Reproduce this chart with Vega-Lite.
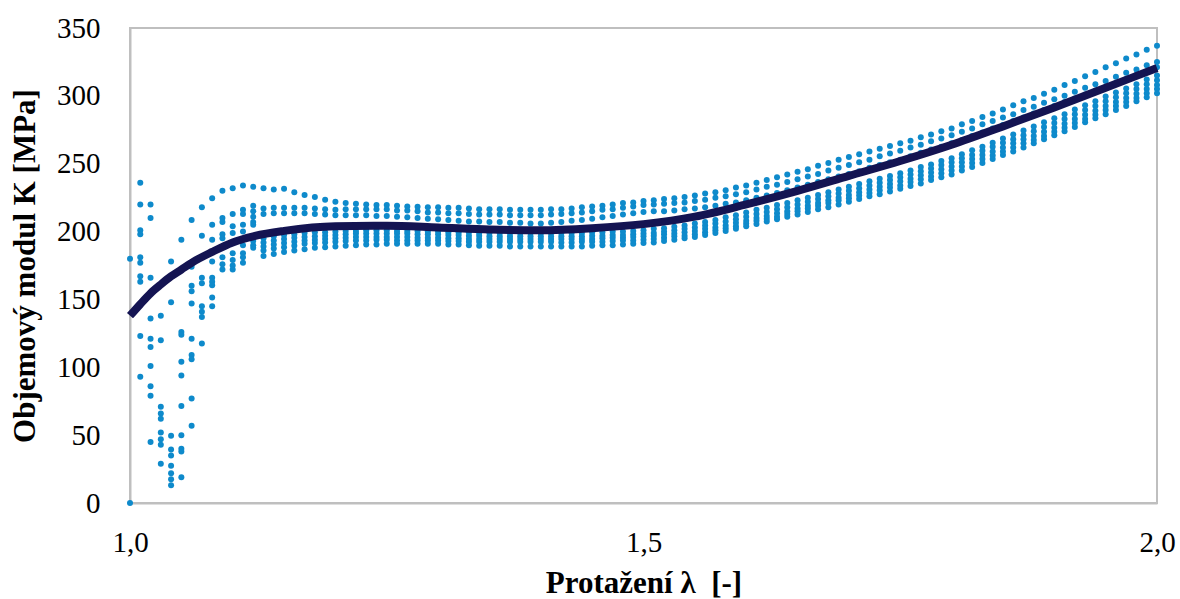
{
"$schema":"https://vega.github.io/schema/vega-lite/v6.json",
"width":1027,"height":475,
"autosize":{"type":"none"},
"padding":{"left":130,"top":28,"right":23,"bottom":96},
"background":"white",
"config":{"view":{"stroke":"#bfbfbf","strokeWidth":2},"font":"Liberation Serif"},
"datasets":{
"pts":[
{"x":1.00,"k":0},{"x":1.00,"k":180},
{"x":1.01,"k":236},{"x":1.01,"k":220},{"x":1.01,"k":201},{"x":1.01,"k":198},{"x":1.01,"k":181},{"x":1.01,"k":177},{"x":1.01,"k":167},{"x":1.01,"k":163},{"x":1.01,"k":123},{"x":1.01,"k":93},
{"x":1.02,"k":220},{"x":1.02,"k":210},{"x":1.02,"k":166},{"x":1.02,"k":136},{"x":1.02,"k":121},{"x":1.02,"k":115},{"x":1.02,"k":101},{"x":1.02,"k":86},{"x":1.02,"k":79},{"x":1.02,"k":45},
{"x":1.03,"k":138},{"x":1.03,"k":120},{"x":1.03,"k":71},{"x":1.03,"k":66},{"x":1.03,"k":62},{"x":1.03,"k":52},{"x":1.03,"k":47},{"x":1.03,"k":43},{"x":1.03,"k":29},
{"x":1.04,"k":178},{"x":1.04,"k":148},{"x":1.04,"k":49.5},{"x":1.04,"k":39.5},{"x":1.04,"k":35},{"x":1.04,"k":27.5},{"x":1.04,"k":22},{"x":1.04,"k":17.5},{"x":1.04,"k":13},
{"x":1.05,"k":194},{"x":1.05,"k":126},{"x":1.05,"k":124},{"x":1.05,"k":104},{"x":1.05,"k":94},{"x":1.05,"k":71.5},{"x":1.05,"k":50},{"x":1.05,"k":40},{"x":1.05,"k":38},{"x":1.05,"k":19},
{"x":1.06,"k":208.5},{"x":1.06,"k":174},{"x":1.06,"k":160},{"x":1.06,"k":156},{"x":1.06,"k":147},{"x":1.06,"k":121},{"x":1.06,"k":109},{"x":1.06,"k":106},{"x":1.06,"k":77},{"x":1.06,"k":57},
{"x":1.07,"k":218},{"x":1.07,"k":197},{"x":1.07,"k":166},{"x":1.07,"k":162},{"x":1.07,"k":145},{"x":1.07,"k":141},{"x":1.07,"k":137},{"x":1.07,"k":117.5},
{"x":1.08,"k":224.5},{"x":1.08,"k":205},{"x":1.08,"k":194},{"x":1.08,"k":178},{"x":1.08,"k":166},{"x":1.08,"k":163},{"x":1.08,"k":160.5},{"x":1.08,"k":151.5},{"x":1.08,"k":145},
{"x":1.09,"k":230},{"x":1.09,"k":210},{"x":1.09,"k":207},{"x":1.09,"k":198},{"x":1.09,"k":195},{"x":1.09,"k":189},{"x":1.09,"k":181},{"x":1.09,"k":176},{"x":1.09,"k":172},
{"x":1.10,"k":232},{"x":1.10,"k":213},{"x":1.10,"k":204},{"x":1.10,"k":199},{"x":1.10,"k":184},{"x":1.10,"k":179},{"x":1.10,"k":175},{"x":1.10,"k":172},
{"x":1.11,"k":234},{"x":1.11,"k":216},{"x":1.11,"k":213},{"x":1.11,"k":205},{"x":1.11,"k":200},{"x":1.11,"k":190},{"x":1.11,"k":184},{"x":1.11,"k":181},{"x":1.11,"k":177},
{"x":1.12,"k":233},{"x":1.12,"k":219},{"x":1.12,"k":215},{"x":1.12,"k":211},{"x":1.12,"k":207},{"x":1.12,"k":205},{"x":1.12,"k":193},{"x":1.12,"k":190},{"x":1.12,"k":188},
{"x":1.13,"k":232},{"x":1.13,"k":217},{"x":1.13,"k":213},{"x":1.13,"k":195},{"x":1.13,"k":192},{"x":1.13,"k":189},{"x":1.13,"k":186},{"x":1.13,"k":182},
{"x":1.14,"k":231},{"x":1.14,"k":217.5},{"x":1.14,"k":213.5},{"x":1.14,"k":196.5},{"x":1.14,"k":193.5},{"x":1.14,"k":190.5},{"x":1.14,"k":187.5},{"x":1.14,"k":183.5},
{"x":1.15,"k":231.5},{"x":1.15,"k":217.5},{"x":1.15,"k":213.5},{"x":1.15,"k":197.5},{"x":1.15,"k":194.5},{"x":1.15,"k":191.5},{"x":1.15,"k":188.5},{"x":1.15,"k":185},
{"x":1.16,"k":229},{"x":1.16,"k":217.5},{"x":1.16,"k":213.5},{"x":1.16,"k":198},{"x":1.16,"k":195.5},{"x":1.16,"k":192.5},{"x":1.16,"k":189.5},{"x":1.16,"k":186},
{"x":1.17,"k":227},{"x":1.17,"k":217.5},{"x":1.17,"k":213.5},{"x":1.17,"k":199},{"x":1.17,"k":196},{"x":1.17,"k":193.5},{"x":1.17,"k":191},{"x":1.17,"k":187},
{"x":1.18,"k":225.5},{"x":1.18,"k":217},{"x":1.18,"k":213},{"x":1.18,"k":199.5},{"x":1.18,"k":196.5},{"x":1.18,"k":194},{"x":1.18,"k":191.5},{"x":1.18,"k":188},
{"x":1.19,"k":223.5},{"x":1.19,"k":216.5},{"x":1.19,"k":212.5},{"x":1.19,"k":199.5},{"x":1.19,"k":197},{"x":1.19,"k":194.5},{"x":1.19,"k":192},{"x":1.19,"k":188.5},
{"x":1.20,"k":222},{"x":1.20,"k":216},{"x":1.20,"k":212},{"x":1.20,"k":200},{"x":1.20,"k":197.5},{"x":1.20,"k":195},{"x":1.20,"k":192.5},{"x":1.20,"k":189},
{"x":1.21,"k":221},{"x":1.21,"k":216.5},{"x":1.21,"k":212},{"x":1.21,"k":200.5},{"x":1.21,"k":198},{"x":1.21,"k":195.5},{"x":1.21,"k":193},{"x":1.21,"k":189.5},
{"x":1.22,"k":220.5},{"x":1.22,"k":216.5},{"x":1.22,"k":212},{"x":1.22,"k":200.5},{"x":1.22,"k":198.5},{"x":1.22,"k":196},{"x":1.22,"k":193.5},{"x":1.22,"k":190},
{"x":1.23,"k":220},{"x":1.23,"k":216.5},{"x":1.23,"k":212},{"x":1.23,"k":201},{"x":1.23,"k":198.5},{"x":1.23,"k":196},{"x":1.23,"k":193.5},{"x":1.23,"k":190.5},
{"x":1.24,"k":219.5},{"x":1.24,"k":216.5},{"x":1.24,"k":211.5},{"x":1.24,"k":201},{"x":1.24,"k":198.5},{"x":1.24,"k":196},{"x":1.24,"k":194},{"x":1.24,"k":190.5},
{"x":1.25,"k":219.5},{"x":1.25,"k":216.5},{"x":1.25,"k":211.5},{"x":1.25,"k":201},{"x":1.25,"k":198.5},{"x":1.25,"k":196},{"x":1.25,"k":194},{"x":1.25,"k":191},
{"x":1.26,"k":219},{"x":1.26,"k":215.5},{"x":1.26,"k":211},{"x":1.26,"k":200.5},{"x":1.26,"k":198.5},{"x":1.26,"k":196},{"x":1.26,"k":193.5},{"x":1.26,"k":191},
{"x":1.27,"k":218.5},{"x":1.27,"k":215.5},{"x":1.27,"k":210.5},{"x":1.27,"k":200.5},{"x":1.27,"k":198.5},{"x":1.27,"k":196},{"x":1.27,"k":193.5},{"x":1.27,"k":191},
{"x":1.28,"k":218.3},{"x":1.28,"k":215},{"x":1.28,"k":210},{"x":1.28,"k":200.5},{"x":1.28,"k":198},{"x":1.28,"k":195.5},{"x":1.28,"k":193.5},{"x":1.28,"k":191},
{"x":1.29,"k":218},{"x":1.29,"k":214},{"x":1.29,"k":209.5},{"x":1.29,"k":200},{"x":1.29,"k":198},{"x":1.29,"k":195.5},{"x":1.29,"k":193.5},{"x":1.29,"k":191},
{"x":1.30,"k":218},{"x":1.30,"k":214},{"x":1.30,"k":209},{"x":1.30,"k":200},{"x":1.30,"k":198},{"x":1.30,"k":195.5},{"x":1.30,"k":193.5},{"x":1.30,"k":191},
{"x":1.31,"k":217.5},{"x":1.31,"k":213.5},{"x":1.31,"k":208.5},{"x":1.31,"k":199.5},{"x":1.31,"k":197.5},{"x":1.31,"k":195},{"x":1.31,"k":193},{"x":1.31,"k":190.5},
{"x":1.32,"k":217.5},{"x":1.32,"k":213.5},{"x":1.32,"k":208},{"x":1.32,"k":199.5},{"x":1.32,"k":197.5},{"x":1.32,"k":195},{"x":1.32,"k":193},{"x":1.32,"k":190.5},
{"x":1.33,"k":217},{"x":1.33,"k":213},{"x":1.33,"k":207.5},{"x":1.33,"k":199.5},{"x":1.33,"k":197},{"x":1.33,"k":194.5},{"x":1.33,"k":192.5},{"x":1.33,"k":190},
{"x":1.34,"k":216.5},{"x":1.34,"k":212.5},{"x":1.34,"k":207.5},{"x":1.34,"k":199},{"x":1.34,"k":197},{"x":1.34,"k":194.5},{"x":1.34,"k":192.5},{"x":1.34,"k":189.5},
{"x":1.35,"k":216.5},{"x":1.35,"k":212.5},{"x":1.35,"k":207},{"x":1.35,"k":199},{"x":1.35,"k":196.5},{"x":1.35,"k":194.5},{"x":1.35,"k":192.5},{"x":1.35,"k":189.5},
{"x":1.36,"k":216.5},{"x":1.36,"k":212.5},{"x":1.36,"k":207},{"x":1.36,"k":199},{"x":1.36,"k":196.5},{"x":1.36,"k":194.5},{"x":1.36,"k":192.5},{"x":1.36,"k":189.5},
{"x":1.37,"k":216},{"x":1.37,"k":212},{"x":1.37,"k":206.5},{"x":1.37,"k":199},{"x":1.37,"k":196.5},{"x":1.37,"k":194.5},{"x":1.37,"k":192.5},{"x":1.37,"k":189},
{"x":1.38,"k":216},{"x":1.38,"k":212},{"x":1.38,"k":206.5},{"x":1.38,"k":199},{"x":1.38,"k":196.5},{"x":1.38,"k":194.5},{"x":1.38,"k":192.5},{"x":1.38,"k":189},
{"x":1.39,"k":216},{"x":1.39,"k":212},{"x":1.39,"k":206},{"x":1.39,"k":199},{"x":1.39,"k":196.5},{"x":1.39,"k":194.5},{"x":1.39,"k":192.5},{"x":1.39,"k":189},
{"x":1.40,"k":216},{"x":1.40,"k":212},{"x":1.40,"k":206},{"x":1.40,"k":199},{"x":1.40,"k":196.5},{"x":1.40,"k":194.5},{"x":1.40,"k":192.5},{"x":1.40,"k":189},
{"x":1.41,"k":216.5},{"x":1.41,"k":212.5},{"x":1.41,"k":206.5},{"x":1.41,"k":199},{"x":1.41,"k":196.5},{"x":1.41,"k":194.5},{"x":1.41,"k":192.5},{"x":1.41,"k":189},
{"x":1.42,"k":216.5},{"x":1.42,"k":213},{"x":1.42,"k":207},{"x":1.42,"k":199},{"x":1.42,"k":196.5},{"x":1.42,"k":194.5},{"x":1.42,"k":192},{"x":1.42,"k":189},
{"x":1.43,"k":217},{"x":1.43,"k":213.5},{"x":1.43,"k":208},{"x":1.43,"k":199},{"x":1.43,"k":196.5},{"x":1.43,"k":194.5},{"x":1.43,"k":192},{"x":1.43,"k":189},
{"x":1.44,"k":218},{"x":1.44,"k":214},{"x":1.44,"k":208.5},{"x":1.44,"k":199},{"x":1.44,"k":196.5},{"x":1.44,"k":194.5},{"x":1.44,"k":192.5},{"x":1.44,"k":189},
{"x":1.45,"k":218.5},{"x":1.45,"k":215},{"x":1.45,"k":209.5},{"x":1.45,"k":199.5},{"x":1.45,"k":197},{"x":1.45,"k":194.5},{"x":1.45,"k":192.5},{"x":1.45,"k":189.5},
{"x":1.46,"k":219},{"x":1.46,"k":216},{"x":1.46,"k":210.5},{"x":1.46,"k":199.5},{"x":1.46,"k":197},{"x":1.46,"k":195},{"x":1.46,"k":192.5},{"x":1.46,"k":190},
{"x":1.47,"k":220},{"x":1.47,"k":216.5},{"x":1.47,"k":211.5},{"x":1.47,"k":200},{"x":1.47,"k":197.5},{"x":1.47,"k":195.5},{"x":1.47,"k":193},{"x":1.47,"k":190},
{"x":1.48,"k":221},{"x":1.48,"k":217.5},{"x":1.48,"k":212.5},{"x":1.48,"k":200},{"x":1.48,"k":197.5},{"x":1.48,"k":195.5},{"x":1.48,"k":193.5},{"x":1.48,"k":190.5},
{"x":1.49,"k":221.5},{"x":1.49,"k":218.5},{"x":1.49,"k":213.5},{"x":1.49,"k":200.5},{"x":1.49,"k":198},{"x":1.49,"k":196},{"x":1.49,"k":193.5},{"x":1.49,"k":191},
{"x":1.50,"k":222.5},{"x":1.50,"k":219.5},{"x":1.50,"k":214.5},{"x":1.50,"k":201},{"x":1.50,"k":198.5},{"x":1.50,"k":196.5},{"x":1.50,"k":194},{"x":1.50,"k":191.5},
{"x":1.51,"k":223},{"x":1.51,"k":220},{"x":1.51,"k":215},{"x":1.51,"k":202},{"x":1.51,"k":199},{"x":1.51,"k":197},{"x":1.51,"k":194.5},{"x":1.51,"k":192},
{"x":1.52,"k":224},{"x":1.52,"k":220.5},{"x":1.52,"k":215},{"x":1.52,"k":202.5},{"x":1.52,"k":200},{"x":1.52,"k":198},{"x":1.52,"k":195.5},{"x":1.52,"k":193},
{"x":1.53,"k":224.5},{"x":1.53,"k":221},{"x":1.53,"k":215.5},{"x":1.53,"k":203.5},{"x":1.53,"k":201},{"x":1.53,"k":198.5},{"x":1.53,"k":196.5},{"x":1.53,"k":194},
{"x":1.54,"k":225.5},{"x":1.54,"k":221.5},{"x":1.54,"k":216.5},{"x":1.54,"k":204.5},{"x":1.54,"k":202},{"x":1.54,"k":199.5},{"x":1.54,"k":197},{"x":1.54,"k":195},
{"x":1.55,"k":226.5},{"x":1.55,"k":222.5},{"x":1.55,"k":217},{"x":1.55,"k":206},{"x":1.55,"k":203},{"x":1.55,"k":200.5},{"x":1.55,"k":198},{"x":1.55,"k":196},
{"x":1.56,"k":228},{"x":1.56,"k":223.5},{"x":1.56,"k":218},{"x":1.56,"k":207},{"x":1.56,"k":204.5},{"x":1.56,"k":202},{"x":1.56,"k":199.5},{"x":1.56,"k":197.5},
{"x":1.57,"k":229},{"x":1.57,"k":225},{"x":1.57,"k":219},{"x":1.57,"k":208.5},{"x":1.57,"k":206},{"x":1.57,"k":203},{"x":1.57,"k":201},{"x":1.57,"k":199},
{"x":1.58,"k":230.5},{"x":1.58,"k":226},{"x":1.58,"k":220.5},{"x":1.58,"k":210.5},{"x":1.58,"k":207.5},{"x":1.58,"k":204.5},{"x":1.58,"k":202.5},{"x":1.58,"k":200.5},
{"x":1.59,"k":232.5},{"x":1.59,"k":227.5},{"x":1.59,"k":221.5},{"x":1.59,"k":212},{"x":1.59,"k":209},{"x":1.59,"k":206.5},{"x":1.59,"k":204},{"x":1.59,"k":202},
{"x":1.60,"k":234},{"x":1.60,"k":229},{"x":1.60,"k":223},{"x":1.60,"k":214},{"x":1.60,"k":211},{"x":1.60,"k":208},{"x":1.60,"k":206},{"x":1.60,"k":204},
{"x":1.61,"k":236},{"x":1.61,"k":231},{"x":1.61,"k":225},{"x":1.61,"k":216},{"x":1.61,"k":213},{"x":1.61,"k":210},{"x":1.61,"k":208},{"x":1.61,"k":205.5},
{"x":1.62,"k":238},{"x":1.62,"k":233},{"x":1.62,"k":226.5},{"x":1.62,"k":217.5},{"x":1.62,"k":214.5},{"x":1.62,"k":211.5},{"x":1.62,"k":209.5},{"x":1.62,"k":207.5},
{"x":1.63,"k":240},{"x":1.63,"k":234.5},{"x":1.63,"k":228.5},{"x":1.63,"k":219.5},{"x":1.63,"k":216.5},{"x":1.63,"k":213.5},{"x":1.63,"k":211},{"x":1.63,"k":209},
{"x":1.64,"k":242},{"x":1.64,"k":236.5},{"x":1.64,"k":230.5},{"x":1.64,"k":221},{"x":1.64,"k":218},{"x":1.64,"k":215},{"x":1.64,"k":213},{"x":1.64,"k":211},
{"x":1.65,"k":244},{"x":1.65,"k":238.5},{"x":1.65,"k":232.5},{"x":1.65,"k":223},{"x":1.65,"k":220},{"x":1.65,"k":217},{"x":1.65,"k":215},{"x":1.65,"k":212.5},
{"x":1.66,"k":246},{"x":1.66,"k":240.5},{"x":1.66,"k":234.5},{"x":1.66,"k":225},{"x":1.66,"k":222},{"x":1.66,"k":219},{"x":1.66,"k":217},{"x":1.66,"k":214.5},
{"x":1.67,"k":248.5},{"x":1.67,"k":242.5},{"x":1.67,"k":236.5},{"x":1.67,"k":227},{"x":1.67,"k":224},{"x":1.67,"k":221},{"x":1.67,"k":219},{"x":1.67,"k":216.5},
{"x":1.68,"k":250.5},{"x":1.68,"k":245},{"x":1.68,"k":238.5},{"x":1.68,"k":229},{"x":1.68,"k":226},{"x":1.68,"k":223},{"x":1.68,"k":221},{"x":1.68,"k":218},
{"x":1.69,"k":253},{"x":1.69,"k":247},{"x":1.69,"k":240.5},{"x":1.69,"k":231},{"x":1.69,"k":228},{"x":1.69,"k":225},{"x":1.69,"k":223},{"x":1.69,"k":220},
{"x":1.70,"k":255},{"x":1.70,"k":249},{"x":1.70,"k":242.5},{"x":1.70,"k":233},{"x":1.70,"k":230},{"x":1.70,"k":227},{"x":1.70,"k":224.5},{"x":1.70,"k":222},
{"x":1.71,"k":257},{"x":1.71,"k":251},{"x":1.71,"k":244.5},{"x":1.71,"k":235},{"x":1.71,"k":232},{"x":1.71,"k":229},{"x":1.71,"k":226.5},{"x":1.71,"k":224},
{"x":1.72,"k":259},{"x":1.72,"k":253},{"x":1.72,"k":247},{"x":1.72,"k":237},{"x":1.72,"k":234},{"x":1.72,"k":231},{"x":1.72,"k":228.5},{"x":1.72,"k":226},
{"x":1.73,"k":261},{"x":1.73,"k":255.5},{"x":1.73,"k":249},{"x":1.73,"k":239},{"x":1.73,"k":236},{"x":1.73,"k":233},{"x":1.73,"k":230.5},{"x":1.73,"k":227.5},
{"x":1.74,"k":263},{"x":1.74,"k":257.5},{"x":1.74,"k":251},{"x":1.74,"k":241},{"x":1.74,"k":238},{"x":1.74,"k":235},{"x":1.74,"k":232.5},{"x":1.74,"k":229.5},
{"x":1.75,"k":265},{"x":1.75,"k":259.5},{"x":1.75,"k":253},{"x":1.75,"k":243},{"x":1.75,"k":240},{"x":1.75,"k":237},{"x":1.75,"k":234},{"x":1.75,"k":231.5},
{"x":1.76,"k":267},{"x":1.76,"k":262},{"x":1.76,"k":255.5},{"x":1.76,"k":245},{"x":1.76,"k":242},{"x":1.76,"k":239},{"x":1.76,"k":236.5},{"x":1.76,"k":233.5},
{"x":1.77,"k":269.5},{"x":1.77,"k":264},{"x":1.77,"k":258},{"x":1.77,"k":247.5},{"x":1.77,"k":244.5},{"x":1.77,"k":241.5},{"x":1.77,"k":238.5},{"x":1.77,"k":235.5},
{"x":1.78,"k":271.5},{"x":1.78,"k":266.5},{"x":1.78,"k":260.5},{"x":1.78,"k":249.5},{"x":1.78,"k":246.5},{"x":1.78,"k":243.5},{"x":1.78,"k":240.5},{"x":1.78,"k":238},
{"x":1.79,"k":274},{"x":1.79,"k":268.5},{"x":1.79,"k":262.5},{"x":1.79,"k":252},{"x":1.79,"k":249},{"x":1.79,"k":246},{"x":1.79,"k":243},{"x":1.79,"k":240},
{"x":1.80,"k":276},{"x":1.80,"k":271},{"x":1.80,"k":265},{"x":1.80,"k":254},{"x":1.80,"k":251},{"x":1.80,"k":248},{"x":1.80,"k":245},{"x":1.80,"k":242},
{"x":1.81,"k":279},{"x":1.81,"k":273.5},{"x":1.81,"k":267.5},{"x":1.81,"k":257},{"x":1.81,"k":254},{"x":1.81,"k":251},{"x":1.81,"k":248},{"x":1.81,"k":245},
{"x":1.82,"k":281.5},{"x":1.82,"k":276},{"x":1.82,"k":270.5},{"x":1.82,"k":260},{"x":1.82,"k":256.5},{"x":1.82,"k":253.5},{"x":1.82,"k":250.5},{"x":1.82,"k":247.5},
{"x":1.83,"k":284.5},{"x":1.83,"k":279},{"x":1.83,"k":273},{"x":1.83,"k":262.5},{"x":1.83,"k":259.5},{"x":1.83,"k":256.5},{"x":1.83,"k":253.5},{"x":1.83,"k":250.5},
{"x":1.84,"k":287},{"x":1.84,"k":281.5},{"x":1.84,"k":276},{"x":1.84,"k":265.5},{"x":1.84,"k":262.5},{"x":1.84,"k":259},{"x":1.84,"k":256},{"x":1.84,"k":253.5},
{"x":1.85,"k":290},{"x":1.85,"k":284},{"x":1.85,"k":278.5},{"x":1.85,"k":268.5},{"x":1.85,"k":265.5},{"x":1.85,"k":262},{"x":1.85,"k":259},{"x":1.85,"k":256.5},
{"x":1.86,"k":293},{"x":1.86,"k":286.5},{"x":1.86,"k":281.5},{"x":1.86,"k":271.5},{"x":1.86,"k":268},{"x":1.86,"k":265},{"x":1.86,"k":262},{"x":1.86,"k":259},
{"x":1.87,"k":296},{"x":1.87,"k":289.5},{"x":1.87,"k":284},{"x":1.87,"k":274.5},{"x":1.87,"k":271},{"x":1.87,"k":268},{"x":1.87,"k":265},{"x":1.87,"k":262},
{"x":1.88,"k":298.5},{"x":1.88,"k":292},{"x":1.88,"k":287},{"x":1.88,"k":277.5},{"x":1.88,"k":274},{"x":1.88,"k":270.5},{"x":1.88,"k":267.5},{"x":1.88,"k":265},
{"x":1.89,"k":301.5},{"x":1.89,"k":295},{"x":1.89,"k":289.5},{"x":1.89,"k":280.5},{"x":1.89,"k":277},{"x":1.89,"k":273.5},{"x":1.89,"k":270.5},{"x":1.89,"k":268},
{"x":1.90,"k":304.5},{"x":1.90,"k":297.5},{"x":1.90,"k":292.5},{"x":1.90,"k":283.5},{"x":1.90,"k":280},{"x":1.90,"k":276.5},{"x":1.90,"k":273.5},{"x":1.90,"k":271},
{"x":1.91,"k":308},{"x":1.91,"k":300},{"x":1.91,"k":295.5},{"x":1.91,"k":286.5},{"x":1.91,"k":283},{"x":1.91,"k":279.5},{"x":1.91,"k":276.5},{"x":1.91,"k":274},
{"x":1.92,"k":311},{"x":1.92,"k":303},{"x":1.92,"k":298},{"x":1.92,"k":290},{"x":1.92,"k":286.5},{"x":1.92,"k":283},{"x":1.92,"k":280},{"x":1.92,"k":277},
{"x":1.93,"k":314.5},{"x":1.93,"k":306},{"x":1.93,"k":301},{"x":1.93,"k":293},{"x":1.93,"k":289.5},{"x":1.93,"k":286},{"x":1.93,"k":283},{"x":1.93,"k":280.5},
{"x":1.94,"k":317.5},{"x":1.94,"k":308.5},{"x":1.94,"k":304},{"x":1.94,"k":296},{"x":1.94,"k":292.5},{"x":1.94,"k":289},{"x":1.94,"k":286},{"x":1.94,"k":283.5},
{"x":1.95,"k":321},{"x":1.95,"k":311},{"x":1.95,"k":306.5},{"x":1.95,"k":299.5},{"x":1.95,"k":296},{"x":1.95,"k":292.5},{"x":1.95,"k":289.5},{"x":1.95,"k":286.5},
{"x":1.96,"k":324},{"x":1.96,"k":314},{"x":1.96,"k":309.5},{"x":1.96,"k":302.5},{"x":1.96,"k":299},{"x":1.96,"k":295.5},{"x":1.96,"k":292.5},{"x":1.96,"k":289.5},
{"x":1.97,"k":327.5},{"x":1.97,"k":317},{"x":1.97,"k":312.5},{"x":1.97,"k":305.5},{"x":1.97,"k":302},{"x":1.97,"k":298.5},{"x":1.97,"k":295.5},{"x":1.97,"k":292.5},
{"x":1.98,"k":330.5},{"x":1.98,"k":319.5},{"x":1.98,"k":315.5},{"x":1.98,"k":308.5},{"x":1.98,"k":305},{"x":1.98,"k":301.5},{"x":1.98,"k":298.5},{"x":1.98,"k":296},
{"x":1.99,"k":334},{"x":1.99,"k":322.5},{"x":1.99,"k":318},{"x":1.99,"k":312},{"x":1.99,"k":308.5},{"x":1.99,"k":305},{"x":1.99,"k":302},{"x":1.99,"k":299},
{"x":2.00,"k":337},{"x":2.00,"k":325},{"x":2.00,"k":321},{"x":2.00,"k":315},{"x":2.00,"k":311.5},{"x":2.00,"k":308},{"x":2.00,"k":305},{"x":2.00,"k":302}
],
"fit":[
{"x":1.00,"k":138},{"x":1.01,"k":146.5},{"x":1.02,"k":154.5},{"x":1.03,"k":161},{"x":1.04,"k":167},{"x":1.05,"k":172},{"x":1.06,"k":177},{"x":1.08,"k":185},{"x":1.10,"k":192},{"x":1.12,"k":196.5},{"x":1.15,"k":200.5},{"x":1.20,"k":204},{"x":1.25,"k":204.3},{"x":1.30,"k":203},{"x":1.35,"k":201.5},{"x":1.40,"k":201},{"x":1.45,"k":202.5},{"x":1.50,"k":205.5},{"x":1.55,"k":211},{"x":1.60,"k":220},{"x":1.65,"k":230},{"x":1.70,"k":241},{"x":1.75,"k":252},{"x":1.80,"k":264},{"x":1.85,"k":277.5},{"x":1.90,"k":291.5},{"x":1.95,"k":306},{"x":2.00,"k":320.5}
]
},
"layer":[
{"data":{"name":"pts"},
 "mark":{"type":"circle","size":36,"color":"#0E8ACB","opacity":1},
 "encoding":{
  "x":{"field":"x","type":"quantitative","scale":{"domain":[1,2],"nice":false,"zero":false},
   "axis":{"title":"Protažení λ\u00a0\u00a0[-]","values":[1,1.5,2],"labelExpr":"replace(format(datum.value,'.1f'),'.',',')","grid":false,"ticks":false,"domainColor":"#bfbfbf","domainWidth":2,"labelFont":"Liberation Serif","labelFontSize":29,"labelColor":"#000000","labelPadding":25,"labelFlush":false,"labelOverlap":false,"titleFont":"Liberation Serif","titleFontSize":31,"titleFontWeight":"bold","titleColor":"#000000","titlePadding":11}},
  "y":{"field":"k","type":"quantitative","scale":{"domain":[0,350],"nice":false},
   "axis":{"title":"Objemový modul K [MPa]","values":[0,50,100,150,200,250,300,350],"grid":false,"ticks":false,"domainColor":"#bfbfbf","domainWidth":2,"labelFont":"Liberation Serif","labelFontSize":29,"labelColor":"#000000","labelPadding":30,"labelFlush":false,"labelOverlap":false,"titleFont":"Liberation Serif","titleFontSize":31,"titleFontWeight":"bold","titleColor":"#000000","titlePadding":15}}
 }},
{"data":{"name":"fit"},
 "mark":{"type":"line","color":"#141452","strokeWidth":8,"interpolate":"monotone","strokeCap":"butt"},
 "encoding":{"x":{"field":"x","type":"quantitative"},"y":{"field":"k","type":"quantitative"}}}
]
}
